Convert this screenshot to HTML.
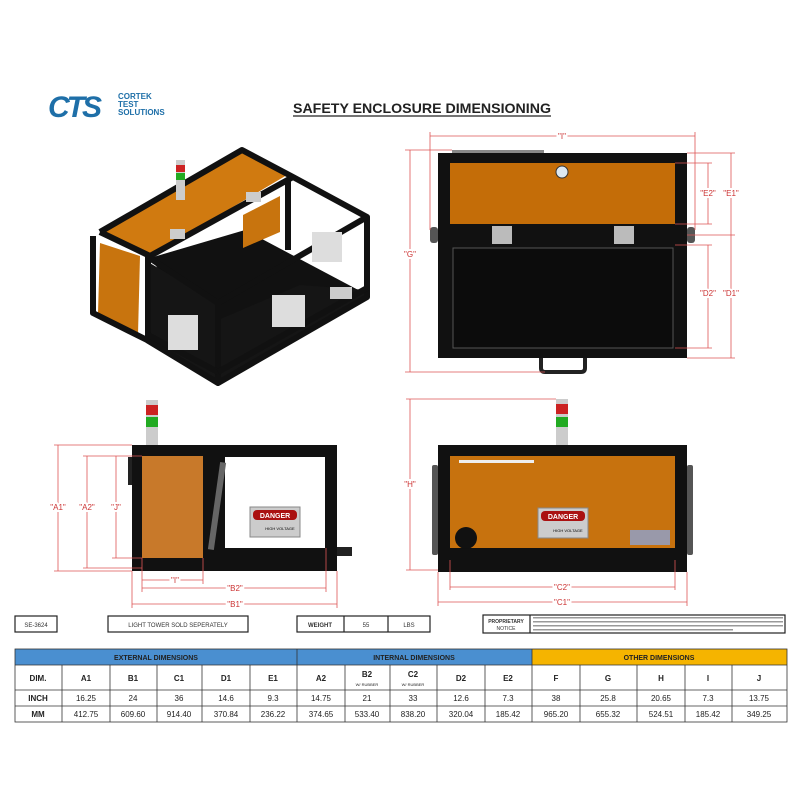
<!DOCTYPE html>
<html><head><meta charset="utf-8"><style>
body{margin:0;background:#fff;width:800px;height:800px;overflow:hidden;font-family:"Liberation Sans",sans-serif}
</style></head><body>
<svg width="800" height="800" viewBox="0 0 800 800" xmlns="http://www.w3.org/2000/svg" font-family="Liberation Sans, sans-serif">
<!-- logo -->
<text x="48" y="117" font-size="30" font-weight="bold" fill="#1e6fa8" font-style="italic" letter-spacing="-3">CTS</text>
<text x="118" y="99" font-size="8" font-weight="bold" fill="#1e6fa8">CORTEK</text>
<text x="118" y="107" font-size="8" font-weight="bold" fill="#1e6fa8">TEST</text>
<text x="118" y="115" font-size="8" font-weight="bold" fill="#1e6fa8">SOLUTIONS</text>
<text x="293" y="113" font-size="14" font-weight="bold" fill="#222" textLength="258" lengthAdjust="spacingAndGlyphs">SAFETY ENCLOSURE DIMENSIONING</text>
<line x1="293" y1="116" x2="551" y2="116" stroke="#222" stroke-width="1.2"/>

<!-- ISO VIEW -->
<polygon points="150,258 245,230 362,292 218,348" fill="#111"/>
<polygon points="100,232 242,150 287,175 150,256" fill="#d07a10"/>
<polygon points="100,243 140,256 138,334 98,313" fill="#c8740e"/>
<polygon points="243,215 280,196 280,232 243,248" fill="#c8740e"/>
<polygon points="148,340 218,383 218,303 148,262" fill="#151515"/>
<polygon points="218,383 367,297 367,290 300,285 218,320" fill="#151515"/>
<g stroke="#111" stroke-width="6" fill="none" stroke-linejoin="round">
<polyline points="100,232 242,150 293,177 367,217 367,297 218,383 147,340 93,313 93,236"/>
<polyline points="150,256 293,177"/>
<polyline points="148,257 218,303 367,217"/>
<line x1="218" y1="303" x2="218" y2="383"/>
<line x1="148" y1="257" x2="148" y2="340"/>
<line x1="100" y1="232" x2="150" y2="256"/>
<line x1="288" y1="178" x2="288" y2="250"/>
<line x1="148" y1="335" x2="218" y2="372"/>
<line x1="218" y1="372" x2="367" y2="288"/>
</g>
<rect x="176" y="160" width="9" height="40" fill="#ccc"/>
<rect x="176" y="165" width="9" height="7" fill="#c22"/>
<rect x="176" y="173" width="9" height="7" fill="#2a2"/>
<rect x="170" y="229" width="15" height="10" fill="#ccc"/>
<rect x="246" y="192" width="15" height="10" fill="#ccc"/>
<rect x="168" y="315" width="30" height="35" fill="#ddd"/>
<rect x="272" y="295" width="33" height="32" fill="#ddd"/>
<rect x="312" y="232" width="30" height="30" fill="#ddd"/>
<rect x="330" y="287" width="22" height="12" fill="#ccc"/>

<!-- TOP VIEW -->
<rect x="438" y="153" width="249" height="205" fill="#111"/>
<rect x="450" y="163" width="225" height="61" fill="#c46d08"/>
<rect x="453" y="248" width="220" height="100" fill="#0c0c0c" stroke="#555" stroke-width="1"/>
<circle cx="562" cy="172" r="6" fill="#dde8f0" stroke="#333"/>
<rect x="492" y="226" width="20" height="18" fill="#bbb"/>
<rect x="614" y="226" width="20" height="18" fill="#bbb"/>
<rect x="452" y="150" width="92" height="3" fill="#888"/>
<path d="M541,358 v10 q0,4 4,4 h36 q4,0 4,-4 v-10" fill="none" stroke="#222" stroke-width="4"/>
<rect x="430" y="227" width="8" height="16" rx="3" fill="#555"/>
<rect x="687" y="227" width="8" height="16" rx="3" fill="#555"/>
<g stroke="#d55" stroke-width="0.8" fill="none">
<line x1="430" y1="136" x2="695" y2="136"/><line x1="430" y1="132" x2="430" y2="230"/><line x1="695" y1="132" x2="695" y2="230"/>
<line x1="410" y1="150" x2="410" y2="372"/><line x1="405" y1="150" x2="452" y2="150"/><line x1="405" y1="372" x2="545" y2="372"/>
<line x1="708" y1="163" x2="708" y2="224"/><line x1="731" y1="153" x2="731" y2="358"/><line x1="708" y1="245" x2="708" y2="348"/>
<line x1="687" y1="153" x2="735" y2="153"/><line x1="675" y1="163" x2="712" y2="163"/><line x1="675" y1="224" x2="712" y2="224"/>
<line x1="687" y1="235" x2="735" y2="235"/><line x1="675" y1="245" x2="712" y2="245"/><line x1="675" y1="348" x2="712" y2="348"/><line x1="687" y1="358" x2="735" y2="358"/>
</g>
<g font-size="8" fill="#c33" text-anchor="middle">
<text x="562" y="139" style="paint-order:stroke" stroke="#fff" stroke-width="4">"I"</text>
<text x="410" y="257" stroke="#fff" stroke-width="4" style="paint-order:stroke">"G"</text>
<text x="708" y="196" stroke="#fff" stroke-width="4" style="paint-order:stroke">"E2"</text>
<text x="731" y="196" stroke="#fff" stroke-width="4" style="paint-order:stroke">"E1"</text>
<text x="708" y="296" stroke="#fff" stroke-width="4" style="paint-order:stroke">"D2"</text>
<text x="731" y="296" stroke="#fff" stroke-width="4" style="paint-order:stroke">"D1"</text>
</g>

<!-- SIDE VIEW -->
<rect x="132" y="445" width="205" height="126" fill="#111"/>
<rect x="142" y="456" width="61" height="102" fill="#c8792a"/>
<rect x="225" y="457" width="100" height="91" fill="#fff"/>
<rect x="214" y="462" width="6" height="88" fill="#666" transform="rotate(8 217 506)"/>
<rect x="146" y="400" width="12" height="45" fill="#ccc"/>
<rect x="146" y="405" width="12" height="10" fill="#c22"/>
<rect x="146" y="417" width="12" height="10" fill="#2a2"/>
<rect x="337" y="547" width="15" height="9" fill="#222"/>
<rect x="128" y="457" width="4" height="28" fill="#222"/>
<rect x="250" y="507" width="50" height="30" fill="#ccc" stroke="#888"/>
<rect x="253" y="510" width="44" height="10" rx="4" fill="#a11"/>
<text x="275" y="518" font-size="7" fill="#fff" text-anchor="middle" font-weight="bold">DANGER</text>
<text x="280" y="530" font-size="4" text-anchor="middle">HIGH VOLTAGE</text>
<g stroke="#d55" stroke-width="0.8" fill="none">
<line x1="58" y1="445" x2="58" y2="571"/><line x1="54" y1="445" x2="132" y2="445"/><line x1="54" y1="571" x2="132" y2="571"/>
<line x1="87" y1="456" x2="87" y2="568"/><line x1="83" y1="456" x2="142" y2="456"/><line x1="83" y1="568" x2="142" y2="568"/>
<line x1="116" y1="456" x2="116" y2="558"/><line x1="112" y1="558" x2="142" y2="558"/>
<line x1="142" y1="580" x2="203" y2="580"/><line x1="142" y1="588" x2="326" y2="588"/><line x1="132" y1="604" x2="337" y2="604"/>
<line x1="142" y1="558" x2="142" y2="592"/><line x1="203" y1="558" x2="203" y2="584"/><line x1="326" y1="548" x2="326" y2="592"/>
<line x1="132" y1="571" x2="132" y2="608"/><line x1="337" y1="571" x2="337" y2="608"/>
</g>
<g font-size="8" fill="#c33" text-anchor="middle" stroke="#fff" stroke-width="4" style="paint-order:stroke">
<text x="58" y="510">"A1"</text><text x="87" y="510">"A2"</text><text x="116" y="510">"J"</text>
<text x="175" y="583">"I"</text><text x="235" y="591">"B2"</text><text x="235" y="607">"B1"</text>
</g>

<!-- FRONT VIEW -->
<rect x="438" y="445" width="249" height="127" fill="#111"/>
<rect x="450" y="456" width="225" height="92" fill="#c7720e"/>
<rect x="556" y="399" width="12" height="46" fill="#ccc"/>
<rect x="556" y="404" width="12" height="10" fill="#c22"/>
<rect x="556" y="417" width="12" height="10" fill="#2a2"/>
<rect x="432" y="465" width="6" height="90" rx="2" fill="#555"/>
<rect x="687" y="465" width="6" height="90" rx="2" fill="#555"/>
<rect x="459" y="460" width="75" height="3" fill="#eee"/>
<circle cx="466" cy="538" r="11" fill="#111"/>
<rect x="630" y="530" width="40" height="15" fill="#99a"/>
<rect x="538" y="508" width="50" height="30" fill="#ccc" stroke="#888"/>
<rect x="541" y="511" width="44" height="10" rx="4" fill="#a11"/>
<text x="563" y="519" font-size="7" fill="#fff" text-anchor="middle" font-weight="bold">DANGER</text>
<text x="568" y="532" font-size="4" text-anchor="middle">HIGH VOLTAGE</text>
<g stroke="#d55" stroke-width="0.8" fill="none">
<line x1="410" y1="399" x2="410" y2="570"/><line x1="406" y1="399" x2="556" y2="399"/><line x1="406" y1="570" x2="438" y2="570"/>
<line x1="450" y1="587" x2="675" y2="587"/><line x1="438" y1="602" x2="687" y2="602"/>
<line x1="450" y1="560" x2="450" y2="590"/><line x1="675" y1="560" x2="675" y2="590"/><line x1="438" y1="572" x2="438" y2="606"/><line x1="687" y1="572" x2="687" y2="606"/>
</g>
<g font-size="8" fill="#c33" text-anchor="middle" stroke="#fff" stroke-width="4" style="paint-order:stroke">
<text x="410" y="487">"H"</text><text x="562" y="590">"C2"</text><text x="562" y="605">"C1"</text>
</g>

<!-- info boxes -->
<g fill="none" stroke="#222" stroke-width="1.2">
<rect x="15" y="616" width="42" height="16"/><rect x="108" y="616" width="140" height="16"/>
<rect x="297" y="616" width="133" height="16"/><line x1="344" y1="616" x2="344" y2="632"/><line x1="388" y1="616" x2="388" y2="632"/>
<rect x="483" y="615" width="302" height="18"/><line x1="530" y1="615" x2="530" y2="633"/>
</g>
<g font-size="6" fill="#333" text-anchor="middle">
<text x="36" y="627">SE-3624</text><text x="178" y="627">LIGHT TOWER SOLD SEPERATELY</text>
<text x="320" y="627" font-weight="bold">WEIGHT</text><text x="366" y="627">55</text><text x="409" y="627">LBS</text>
<text x="506" y="623" font-size="5" font-weight="bold">PROPRIETARY</text><text x="506" y="630" font-size="5">NOTICE</text>
</g>
<g fill="#999"><rect x="533" y="617" width="250" height="1.5"/><rect x="533" y="621" width="250" height="1.5"/><rect x="533" y="625" width="250" height="1.5"/><rect x="533" y="629" width="200" height="1.5"/></g>

<!-- table -->
<rect x="15" y="649" width="282" height="16" fill="#4a8fd0"/>
<rect x="297" y="649" width="235" height="16" fill="#4a8fd0"/>
<rect x="532" y="649" width="255" height="16" fill="#f5b400"/>
<g stroke="#333" stroke-width="0.8" fill="none">
<rect x="15" y="649" width="772" height="73"/>
<line x1="15" y1="665" x2="787" y2="665"/><line x1="15" y1="690" x2="787" y2="690"/><line x1="15" y1="706" x2="787" y2="706"/>
<line x1="297" y1="649" x2="297" y2="722"/><line x1="532" y1="649" x2="532" y2="722"/>
<line x1="62" y1="665" x2="62" y2="722"/><line x1="110" y1="665" x2="110" y2="722"/><line x1="157" y1="665" x2="157" y2="722"/><line x1="202" y1="665" x2="202" y2="722"/><line x1="250" y1="665" x2="250" y2="722"/>
<line x1="345" y1="665" x2="345" y2="722"/><line x1="390" y1="665" x2="390" y2="722"/><line x1="437" y1="665" x2="437" y2="722"/><line x1="485" y1="665" x2="485" y2="722"/>
<line x1="580" y1="665" x2="580" y2="722"/><line x1="637" y1="665" x2="637" y2="722"/><line x1="685" y1="665" x2="685" y2="722"/><line x1="732" y1="665" x2="732" y2="722"/>
</g>
<g font-size="7" font-weight="bold" fill="#222" text-anchor="middle">
<text x="156" y="660">EXTERNAL DIMENSIONS</text><text x="414" y="660">INTERNAL DIMENSIONS</text><text x="659" y="660">OTHER DIMENSIONS</text>
</g>
<g font-size="8" font-weight="bold" fill="#222" text-anchor="middle">
<text x="38" y="681">DIM.</text><text x="86" y="681">A1</text><text x="133" y="681">B1</text><text x="179" y="681">C1</text><text x="226" y="681">D1</text><text x="273" y="681">E1</text>
<text x="321" y="681">A2</text><text x="367" y="677">B2</text><text x="413" y="677">C2</text><text x="461" y="681">D2</text><text x="508" y="681">E2</text>
<text x="556" y="681">F</text><text x="608" y="681">G</text><text x="661" y="681">H</text><text x="708" y="681">I</text><text x="759" y="681">J</text>
<text x="38" y="701">INCH</text><text x="38" y="717">MM</text>
</g>
<g font-size="4" fill="#222" text-anchor="middle"><text x="367" y="686">W/ RUBBER</text><text x="413" y="686">W/ RUBBER</text></g>
<g font-size="8" fill="#222" text-anchor="middle">
<text x="86" y="701">16.25</text><text x="133" y="701">24</text><text x="179" y="701">36</text><text x="226" y="701">14.6</text><text x="273" y="701">9.3</text>
<text x="321" y="701">14.75</text><text x="367" y="701">21</text><text x="413" y="701">33</text><text x="461" y="701">12.6</text><text x="508" y="701">7.3</text>
<text x="556" y="701">38</text><text x="608" y="701">25.8</text><text x="661" y="701">20.65</text><text x="708" y="701">7.3</text><text x="759" y="701">13.75</text>
<text x="86" y="717">412.75</text><text x="133" y="717">609.60</text><text x="179" y="717">914.40</text><text x="226" y="717">370.84</text><text x="273" y="717">236.22</text>
<text x="321" y="717">374.65</text><text x="367" y="717">533.40</text><text x="413" y="717">838.20</text><text x="461" y="717">320.04</text><text x="508" y="717">185.42</text>
<text x="556" y="717">965.20</text><text x="608" y="717">655.32</text><text x="661" y="717">524.51</text><text x="708" y="717">185.42</text><text x="759" y="717">349.25</text>
</g>
</svg>
</body></html>
